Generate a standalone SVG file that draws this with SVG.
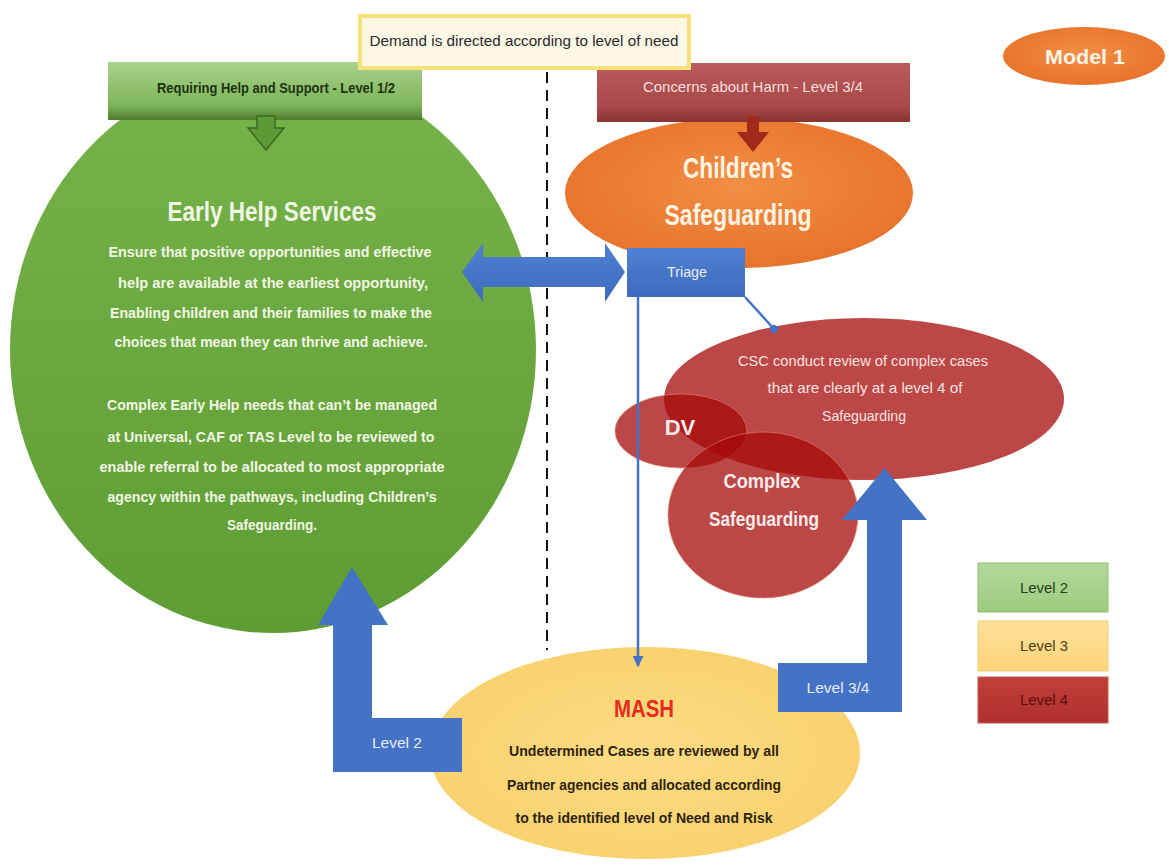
<svg xmlns="http://www.w3.org/2000/svg" width="1169" height="865" viewBox="0 0 1169 865">
<defs>
<style>
.t{font-family:"Liberation Sans",Arial,sans-serif;text-anchor:middle}
.gtxt{fill:#f1f6e4;font-weight:bold;font-size:15px}
.csc{fill:#f8e2e0;font-size:15px}
.mash{fill:#2e2410;font-weight:bold;font-size:15.5px}
.lbl{fill:#e4ecf8;font-size:14px}
.leg{font-size:14px}
.red{fill:#a50a0a;fill-opacity:0.75}
</style>
<linearGradient id="gGreen" x1="0" y1="0" x2="0" y2="1"><stop offset="0" stop-color="#77b34b"/><stop offset="1" stop-color="#5e9d33"/></linearGradient>
<linearGradient id="gGreenBanner" x1="0" y1="0" x2="0" y2="1"><stop offset="0" stop-color="#a9d28d"/><stop offset="0.75" stop-color="#7db458"/><stop offset="1" stop-color="#4d7d2c"/></linearGradient>
<linearGradient id="gRedBanner" x1="0" y1="0" x2="0" y2="1"><stop offset="0" stop-color="#b95c5c"/><stop offset="0.75" stop-color="#a84848"/><stop offset="1" stop-color="#883232"/></linearGradient>
<radialGradient id="gOrange" cx="0.5" cy="0.45" r="0.6"><stop offset="0" stop-color="#f28e45"/><stop offset="1" stop-color="#e6712a"/></radialGradient>
<linearGradient id="gBlue" x1="0" y1="0" x2="0" y2="1"><stop offset="0" stop-color="#4f81d3"/><stop offset="1" stop-color="#3e6abd"/></linearGradient>
<radialGradient id="gMash" cx="0.5" cy="0.5" r="0.6"><stop offset="0" stop-color="#fddc84"/><stop offset="1" stop-color="#f8d06c"/></radialGradient>
<linearGradient id="gL2" x1="0" y1="0" x2="0" y2="1"><stop offset="0" stop-color="#b3d89b"/><stop offset="1" stop-color="#9ccb7e"/></linearGradient>
<linearGradient id="gL3" x1="0" y1="0" x2="0" y2="1"><stop offset="0" stop-color="#ffe09a"/><stop offset="1" stop-color="#fdd47a"/></linearGradient>
<linearGradient id="gL4" x1="0" y1="0" x2="0" y2="1"><stop offset="0" stop-color="#c0403a"/><stop offset="1" stop-color="#ae2f2c"/></linearGradient>
<marker id="arrowBlue" viewBox="0 0 10 10" refX="9" refY="5" markerWidth="11" markerHeight="11" markerUnits="userSpaceOnUse" orient="auto"><path d="M0,0 L10,5 L0,10 z" fill="#4472c4"/></marker>
<marker id="dotBlue" viewBox="0 0 10 10" refX="5" refY="5" markerWidth="8" markerHeight="8" markerUnits="userSpaceOnUse" orient="auto"><circle cx="5" cy="5" r="5" fill="#4472c4"/></marker>
</defs>
<rect width="1169" height="865" fill="#ffffff"/>

<line x1="547" y1="72" x2="547" y2="650" stroke="#111" stroke-width="2" stroke-dasharray="11 7"/>

<g id="early-help">
<ellipse cx="273" cy="350" rx="263" ry="283" fill="url(#gGreen)"/>
<text class="t" x="272" y="221" fill="#f1f6e4" font-weight="bold" font-size="27" textLength="209" lengthAdjust="spacingAndGlyphs">Early Help Services</text>
<text class="t gtxt" x="270" y="257" textLength="323" lengthAdjust="spacingAndGlyphs">Ensure that positive opportunities and effective</text>
<text class="t gtxt" x="273" y="288" textLength="310" lengthAdjust="spacingAndGlyphs">help are available  at the earliest opportunity,</text>
<text class="t gtxt" x="271" y="318" textLength="322" lengthAdjust="spacingAndGlyphs">Enabling  children and  their families to make the</text>
<text class="t gtxt" x="271" y="347" textLength="313" lengthAdjust="spacingAndGlyphs">choices that mean they can thrive and achieve.</text>
<text class="t gtxt" x="272" y="410" textLength="330" lengthAdjust="spacingAndGlyphs">Complex Early Help needs that can’t be managed</text>
<text class="t gtxt" x="271" y="442" textLength="327" lengthAdjust="spacingAndGlyphs">at Universal, CAF or TAS Level to be reviewed to</text>
<text class="t gtxt" x="272" y="472" textLength="345" lengthAdjust="spacingAndGlyphs">enable referral to be allocated to most appropriate</text>
<text class="t gtxt" x="272" y="502" textLength="329" lengthAdjust="spacingAndGlyphs">agency within the pathways, including  Children’s</text>
<text class="t gtxt" x="272" y="530" textLength="90" lengthAdjust="spacingAndGlyphs">Safeguarding.</text>
</g>

<g id="childrens-safeguarding">
<ellipse cx="739" cy="193" rx="174" ry="75" fill="url(#gOrange)"/>
<text class="t" x="738" y="178" fill="#fff4e2" font-weight="bold" font-size="30" textLength="110" lengthAdjust="spacingAndGlyphs">Children’s</text>
<text class="t" x="738" y="225" fill="#fff4e2" font-weight="bold" font-size="30" textLength="147" lengthAdjust="spacingAndGlyphs">Safeguarding</text>
</g>

<g id="csc-review">
<ellipse class="red" cx="864" cy="399" rx="200" ry="81"/>
<text class="t csc" x="863" y="366" textLength="250" lengthAdjust="spacingAndGlyphs">CSC conduct review of complex cases</text>
<text class="t csc" x="865" y="393" textLength="195" lengthAdjust="spacingAndGlyphs">that are clearly at a level 4 of</text>
<text class="t csc" x="864" y="421" textLength="84" lengthAdjust="spacingAndGlyphs">Safeguarding</text>
</g>

<g id="dv">
<ellipse class="red" cx="681" cy="431" rx="66" ry="37" stroke="#e88870" stroke-width="1" stroke-opacity="0.6"/>
<text class="t" x="680" y="435" fill="#fbeaea" font-weight="bold" font-size="22">DV</text>
</g>

<g id="complex-safeguarding">
<ellipse class="red" cx="763" cy="515" rx="95" ry="83" stroke="#e88870" stroke-width="1" stroke-opacity="0.6"/>
<text class="t" x="762" y="488" fill="#fbeaea" font-weight="bold" font-size="21" textLength="77" lengthAdjust="spacingAndGlyphs">Complex</text>
<text class="t" x="764" y="526" fill="#fbeaea" font-weight="bold" font-size="21" textLength="110" lengthAdjust="spacingAndGlyphs">Safeguarding</text>
</g>

<g id="mash">
<ellipse cx="645" cy="753" rx="215" ry="106" fill="url(#gMash)"/>
<text class="t" x="644" y="717" fill="#e8291c" font-weight="bold" font-size="23" textLength="60" lengthAdjust="spacingAndGlyphs">MASH</text>
<text class="t mash" x="644" y="756" textLength="270" lengthAdjust="spacingAndGlyphs">Undetermined Cases are reviewed by all</text>
<text class="t mash" x="644" y="790" textLength="274" lengthAdjust="spacingAndGlyphs">Partner agencies and allocated according</text>
<text class="t mash" x="644" y="823" textLength="257" lengthAdjust="spacingAndGlyphs">to the identified level of Need and Risk</text>
</g>

<g id="banner-help">
<rect x="108" y="62" width="314" height="58" fill="url(#gGreenBanner)"/>
<text class="t" x="276" y="93" fill="#1e3410" font-weight="bold" font-size="15" textLength="238" lengthAdjust="spacingAndGlyphs">Requiring Help and Support - Level 1/2</text>
</g>

<g id="banner-harm">
<rect x="597" y="63" width="313" height="59" fill="url(#gRedBanner)"/>
<text class="t" x="753" y="92" fill="#f7dede" font-size="15" textLength="220" lengthAdjust="spacingAndGlyphs">Concerns about Harm - Level 3/4</text>
</g>

<g id="demand">
<rect x="360" y="16" width="329" height="52" fill="#fdf7e6" stroke="#f6e27a" stroke-width="4"/>
<text class="t" x="524" y="46" fill="#2a2a2a" font-size="15" textLength="309" lengthAdjust="spacingAndGlyphs">Demand is directed according to level of need</text>
</g>

<g id="triage">
<rect x="627" y="248" width="118" height="49" fill="url(#gBlue)"/>
<text class="t" x="687" y="277" fill="#e8eef8" font-size="14" textLength="40" lengthAdjust="spacingAndGlyphs">Triage</text>
</g>

<g id="connectors">
<polygon points="257,116 275,116 275,128 284,128 266,150 248,128 257,128" fill="#5c9a36" stroke="#3b6b1f" stroke-width="1.5"/>
<polygon points="747,116 759,116 759,132 769,132 753,152 737,132 747,132" fill="#a02a1a"/>
<polygon points="462,272 483,243 483,257 605,257 605,243 625,272 605,302 605,287 483,287 483,302" fill="url(#gBlue)"/>
<line x1="638" y1="297" x2="638" y2="666" stroke="#4472c4" stroke-width="2.5" marker-end="url(#arrowBlue)"/>
<line x1="745" y1="297" x2="774" y2="329" stroke="#4472c4" stroke-width="2.5" marker-end="url(#dotBlue)"/>
<polygon points="333,772 333,625 318,625 352,567 388,625 372,625 372,718 462,718 462,772" fill="#4472c4"/>
<polygon points="778,712 778,663 867,663 867,520 842,520 884.5,468 927,520 902,520 902,712" fill="#4472c4"/>
</g>

<g id="label-level2">
<text class="t lbl" x="397" y="748" textLength="50" lengthAdjust="spacingAndGlyphs">Level 2</text>
</g>
<g id="label-level34">
<text class="t lbl" x="838" y="693" textLength="63" lengthAdjust="spacingAndGlyphs">Level 3/4</text>
</g>

<g id="model1">
<ellipse cx="1084" cy="56" rx="81" ry="29" fill="url(#gOrange)"/>
<text class="t" x="1085" y="64" fill="#fff4e6" font-weight="bold" font-size="21" textLength="80" lengthAdjust="spacingAndGlyphs">Model 1</text>
</g>

<g id="legend-level2">
<rect x="978" y="563" width="130" height="49" fill="url(#gL2)" stroke="#8dbf6e" stroke-width="1"/>
<text class="t leg" x="1044" y="593" fill="#263f16" textLength="48" lengthAdjust="spacingAndGlyphs">Level 2</text>
</g>
<g id="legend-level3">
<rect x="978" y="621" width="130" height="50" fill="url(#gL3)" stroke="#f2cc72" stroke-width="1"/>
<text class="t leg" x="1044" y="651" fill="#4e3e10" textLength="48" lengthAdjust="spacingAndGlyphs">Level 3</text>
</g>
<g id="legend-level4">
<rect x="978" y="677" width="130" height="46" fill="url(#gL4)" stroke="#c85a4a" stroke-width="1"/>
<text class="t leg" x="1044" y="705" fill="#5a0e0e" textLength="48" lengthAdjust="spacingAndGlyphs">Level 4</text>
</g>
</svg>
